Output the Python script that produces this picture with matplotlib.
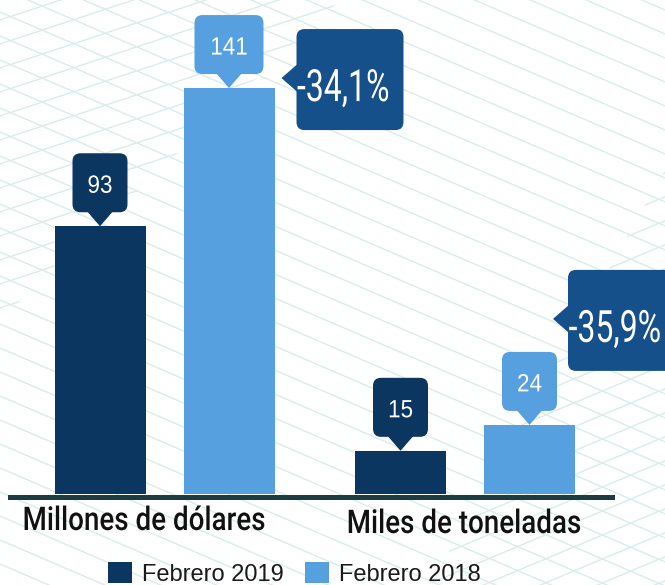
import matplotlib
matplotlib.use('Agg')
import matplotlib.pyplot as plt
import matplotlib.transforms as mtransforms
from matplotlib.patches import FancyBboxPatch, Polygon, Patch
from matplotlib.patheffects import AbstractPathEffect
from matplotlib.text import Text
from matplotlib.transforms import Bbox
from matplotlib import font_manager
import numpy as np

# ---------------- data ----------------
categories = ['Millones de dólares', 'Miles de toneladas']
series_names = ['Febrero 2019', 'Febrero 2018']
values_2019 = [93, 15]
values_2018 = [141, 24]
variations = ['-34,1%', '-35,9%']

# ---------------- styles ----------------
DARK = '#0b365f'
LIGHT = '#57a0e0'
PCT = '#16508a'
BASE = '#1c3c42'
BG_LINE = '#d7eeeb'

names = {f.name for f in font_manager.fontManager.ttflist}
SANS = 'Liberation Sans' if 'Liberation Sans' in names else 'DejaVu Sans'
COND = 'Roboto' if 'Roboto' in names else SANS


class Squeeze(AbstractPathEffect):
    """Draw the text glyphs horizontally condensed about their centre."""
    def __init__(self, sx):
        super().__init__()
        self.sx = sx

    def draw_path(self, renderer, gc, tpath, affine, rgbFace=None):
        ext = tpath.get_extents()
        cx = 0.5 * (ext.x0 + ext.x1)
        sq = mtransforms.Affine2D().translate(-cx, 0).scale(self.sx, 1).translate(cx, 0)
        renderer.draw_path(gc, tpath, sq + affine, rgbFace)


class CondensedText(Text):
    def __init__(self, x, y, s, sx=1.0, **kw):
        super().__init__(x, y, s, **kw)
        self._sx = sx
        self.set_path_effects([Squeeze(sx)])

    def get_window_extent(self, renderer=None, dpi=None):
        bb = super().get_window_extent(renderer=renderer, dpi=dpi)
        cx = 0.5 * (bb.x0 + bb.x1)
        hw = 0.5 * bb.width * self._sx
        return Bbox([[cx - hw, bb.y0], [cx + hw, bb.y1]])


W, H = 665, 585
fig = plt.figure(figsize=(W / 100, H / 100), dpi=100)
fig.patch.set_facecolor('white')

# ---------------- decorative background pattern ----------------
bg = fig.add_axes([0, 0, 1, 1], zorder=-5)
bg.set_xlim(0, W)
bg.set_ylim(H, 0)
bg.axis('off')
xs = np.array([-50.0, W + 50.0])
for c in np.arange(-420, 700, 24):
    bg.plot(xs, 0.43 * xs + c, color=BG_LINE, lw=1.0)
clipA = Polygon([(0, 0), (340, 0), (0, 320)], closed=True, transform=bg.transData)
clipB = Polygon([(430, H), (W, H), (W, 170)], closed=True, transform=bg.transData)
for clip, slope in ((clipA, -0.33), (clipB, -0.42)):
    for c in np.arange(-100, 1000, 24):
        ln, = bg.plot(xs, slope * xs + c, color=BG_LINE, lw=1.0)
        ln.set_clip_path(clip)

# ---------------- main axes ----------------
PX_Y = 2.879          # pixels per unit
GROUP_PX = 300.5      # pixels between groups
ax = fig.add_axes([10 / W, (H - 499) / H, 602 / W, 499 / H])
ax.set_ylim(-5 / PX_Y, 494 / PX_Y)
ax.set_xlim(-154.5 / GROUP_PX, 1 + 147 / GROUP_PX)
ax.axis('off')

x = np.arange(len(categories))
off = 64.5 / GROUP_PX
bw = 91 / GROUP_PX
ax.bar(x - off, values_2019, bw, color=DARK, zorder=3)
ax.bar(x + off, values_2018, bw, color=LIGHT, zorder=3)
ax.axhline(-2.5 / PX_Y, color=BASE, lw=3.6, zorder=2, clip_on=False)


def anchor(xd, yd):
    return mtransforms.Affine2D() + mtransforms.ScaledTranslation(xd, yd, ax.transData)


def value_callout(xd, v, txt, color):
    t = anchor(xd, v)
    w = 27 + 14 * len(txt)
    h, gap = 59, 14
    ax.add_patch(FancyBboxPatch((-w / 2, gap), w, h,
                                boxstyle='round,pad=0,rounding_size=8',
                                transform=t, fc=color, ec='none', clip_on=False, zorder=5))
    ax.add_patch(Polygon([(0, 0), (-13, gap + 1), (13, gap + 1)], closed=True,
                         transform=t, fc=color, ec='none', clip_on=False, zorder=5))
    ax.add_artist(CondensedText(0, 33.5, txt, sx=0.9, transform=t, ha='center',
                                va='baseline', color='white', fontsize=18,
                                family=SANS, zorder=6, clip_on=False))


def pct_callout(xd, v, dx, dy, txt):
    t = anchor(xd, v) + mtransforms.Affine2D().translate(dx, dy)
    bwid, top, bot = 107, 49, -52
    ax.add_patch(FancyBboxPatch((15, bot), bwid, top - bot,
                                boxstyle='round,pad=0,rounding_size=8',
                                transform=t, fc=PCT, ec='none', clip_on=False, zorder=5))
    ax.add_patch(Polygon([(0, 0), (16, 14), (16, -14)], closed=True,
                         transform=t, fc=PCT, ec='none', clip_on=False, zorder=5))
    ax.add_artist(CondensedText(62, -23, txt, sx=0.72, transform=t, ha='center',
                                va='baseline', color='white', fontsize=32,
                                family=COND, zorder=6, clip_on=False))


for i in range(len(categories)):
    value_callout(x[i] - off, values_2019[i], str(values_2019[i]), DARK)
    value_callout(x[i] + off, values_2018[i], str(values_2018[i]), LIGHT)

pct_offsets = [(7, 10), (-22, 106)]
for i in range(len(categories)):
    dx, dy = pct_offsets[i]
    pct_callout(x[i] + off + bw / 2, values_2018[i], dx, dy, variations[i])

label_dx = [-20.5, -1]
label_dy = [-31, -34]
blend = mtransforms.blended_transform_factory(ax.transData, ax.transAxes)
for i, cat in enumerate(categories):
    t = blend + mtransforms.Affine2D().translate(label_dx[i], label_dy[i])
    ax.add_artist(CondensedText(x[i], 0, cat, sx=0.85, transform=t, ha='center',
                                va='baseline', fontsize=23.5, color='#111111',
                                family=COND, weight='medium', clip_on=False))

handles = [Patch(fc=DARK, ec='none'), Patch(fc=LIGHT, ec='none')]
fig.legend(handles, series_names, loc='center',
           bbox_to_anchor=(294.5 / W, 1 - 574 / H), ncol=2, frameon=False,
           prop=dict(family=SANS, size=17), labelcolor='#1a1a1a',
           handlelength=1.0, handleheight=1.0, handletextpad=0.45,
           columnspacing=0.9, borderpad=0, borderaxespad=0)

fig.savefig('out.png', dpi=100, facecolor='white')
